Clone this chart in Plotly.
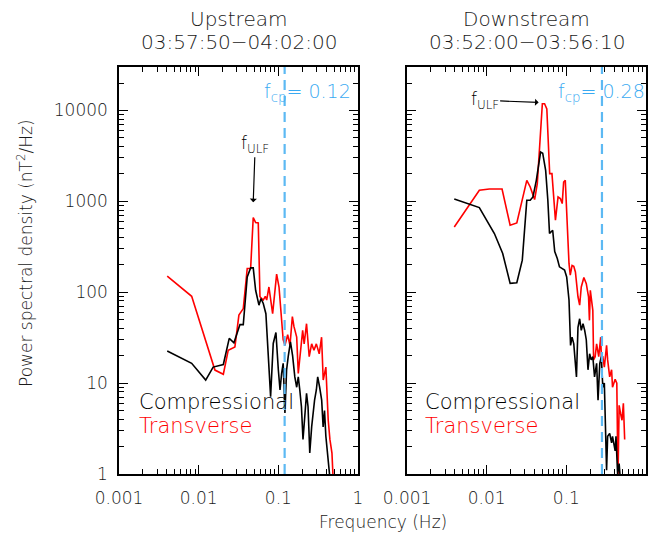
import math
import plotly.graph_objects as go

# ---------------- data ----------------
# Upstream panel
up_tr_f = [0.00403, 0.00817, 0.016, 0.0204, 0.0235, 0.0285, 0.032, 0.0363, 0.0407, 0.0449,
           0.0484, 0.0519, 0.056, 0.0588, 0.0647, 0.0686, 0.0714, 0.0762, 0.0848, 0.0952,
           0.102, 0.115, 0.121, 0.131, 0.14, 0.15, 0.157, 0.17, 0.178, 0.19,
           0.202, 0.211, 0.226, 0.244, 0.262, 0.28, 0.3, 0.326, 0.349, 0.366,
           0.395, 0.423, 0.444, 0.471, 0.487]
up_tr_p = [150, 90, 13.9, 12.5, 23, 25, 56, 66, 182, 182,
           662, 583, 578, 89, 82, 90, 82, 114, 58, 158,
           114, 30, 26, 34, 26, 54, 42, 32, 12.8, 25,
           38, 27, 45, 19.5, 27, 23, 27, 21, 32, 10.8,
           15, 3.9, 2.4, 1.7, 0.9]

up_co_f = [0.00403, 0.00817, 0.01225, 0.0152, 0.0204, 0.0242, 0.0277, 0.033, 0.0363, 0.0407,
           0.0449, 0.0484, 0.0519, 0.0571, 0.0606, 0.0647, 0.0698, 0.0746, 0.08, 0.0863,
           0.0933, 0.1, 0.105, 0.11, 0.115, 0.121, 0.127, 0.133, 0.142, 0.151,
           0.161, 0.17, 0.178, 0.186, 0.195, 0.204, 0.214, 0.226, 0.236, 0.248,
           0.262, 0.272, 0.285, 0.3, 0.312, 0.33, 0.35, 0.365, 0.38, 0.395,
           0.415, 0.43, 0.45]
up_co_p = [22.5, 16.5, 10.8, 15, 16, 31, 27.7, 44, 44, 147,
           185, 185, 105, 72, 85, 75, 58, 23, 7.1, 27.3,
           36, 14, 8.4, 12.8, 16.5, 4.7, 14, 19.5, 28.4, 20,
           11.7, 9, 11.7, 8.4, 5.5, 2.4, 3.9, 7.7, 5.5, 1.7,
           3.3, 4.6, 6.5, 8.4, 11.7, 9, 6.5, 3.3, 5, 2.6,
           1.7, 1.06, 0.8]

# Downstream panel
dn_tr_f = [0.00392, 0.00809, 0.0108, 0.0156, 0.0197, 0.0239, 0.0319, 0.0352, 0.04, 0.0432,
           0.05, 0.0533, 0.0569, 0.0618, 0.066, 0.073, 0.0787, 0.0842, 0.0888, 0.0925,
           0.097, 0.103, 0.108, 0.112, 0.118, 0.124, 0.13, 0.14, 0.147, 0.154,
           0.166, 0.178, 0.19, 0.195, 0.2, 0.215, 0.22, 0.23, 0.24, 0.255,
           0.27, 0.275, 0.287, 0.3, 0.32, 0.33, 0.35, 0.37, 0.38, 0.41,
           0.43, 0.445, 0.46, 0.48, 0.5, 0.52, 0.54]
dn_tr_p = [522, 1321, 1366, 1366, 545, 578, 1700, 1437, 1043, 1563,
           11830, 11830, 10400, 2015, 2015, 618, 1115, 1070, 943, 1630,
           1700, 480, 207, 154, 197, 193, 167, 89, 72, 114,
           145, 124, 89, 49, 105, 63, 18, 19.5, 27, 19.5,
           32, 19.5, 19.5, 15, 26, 18, 11.7, 14, 9, 11,
           10, 0.9, 5.7, 4.6, 3.9, 6, 2.4]

dn_co_f = [0.00392, 0.00809, 0.0125, 0.0159, 0.0175, 0.0197, 0.0239, 0.028, 0.0319, 0.0352,
           0.0381, 0.042, 0.0475, 0.0505, 0.055, 0.0586, 0.0615, 0.0674, 0.0715, 0.077,
           0.082, 0.089, 0.095, 0.101, 0.108, 0.113, 0.118, 0.124, 0.134, 0.14,
           0.147, 0.154, 0.162, 0.17, 0.178, 0.187, 0.196, 0.205, 0.215, 0.226,
           0.24, 0.25, 0.263, 0.275, 0.287, 0.3, 0.31, 0.32, 0.33, 0.35,
           0.37, 0.38, 0.41, 0.42, 0.44, 0.46, 0.48]
dn_co_p = [1060, 853, 442, 266, 190, 125, 127, 225, 1026, 1026,
           1115, 1700, 3480, 3380, 2190, 1026, 442, 480, 280, 235,
           190, 180, 175, 147, 82, 26, 32, 27, 11.7, 41,
           51, 38, 45, 38, 30, 14, 21, 18, 19.5, 11.7,
           16.5, 6.5, 16.5, 19.5, 9, 10, 4.3, 1.1, 2.6, 2.8,
           2.2, 2.6, 1.8, 2.6, 1.0, 1.3, 0.8]

fcp_values = [0.12, 0.28]
ulf_tips = [(0.0484, 975), (0.0449, 12240)]
panel_titles = [("Upstream", "03:57:50\u221204:02:00"), ("Downstream", "03:52:00\u221203:56:10")]
x_ticks = [0.001, 0.01, 0.1, 1]
x_ticktext = ["0.001", "0.01", "0.1", "1"]
y_ticks = [1, 10, 100, 1000, 10000]
y_ticktext = ["1", "10", "100", "1000", "10000"]

# ---------------- style ----------------
W, H = 650, 537
FONT = "DejaVu Sans"
BLUE_TXT = "#3AAAF2"
BLUE_LINE = "#5CB9F3"
RED = "#FF0000"
TXT = "#1a1a1a"
px_x = lambda p: p / W
px_y = lambda p: 1 - p / H

xdom = [[px_x(119), px_x(358)], [px_x(407), px_x(646)]]
ydom = [px_y(474), px_y(67)]

fig = go.Figure()
series = [(up_co_f, up_co_p, up_tr_f, up_tr_p), (dn_co_f, dn_co_p, dn_tr_f, dn_tr_p)]
for i, (cf, cp, tf, tp) in enumerate(series):
    xa = "x" if i == 0 else "x2"
    ya = "y" if i == 0 else "y2"
    fig.add_trace(go.Scatter(x=tf, y=tp, mode="lines", line=dict(color=RED, width=1.6),
                             xaxis=xa, yaxis=ya, showlegend=False))
    fig.add_trace(go.Scatter(x=cf, y=cp, mode="lines", line=dict(color="black", width=1.6),
                             xaxis=xa, yaxis=ya, showlegend=False))

minor_x = [m * 10.0 ** e for e in range(-3, 0) for m in range(2, 10)]
minor_y = [m * 10.0 ** e for e in range(0, 5) for m in range(2, 10)]

tickfont = dict(family=FONT, size=17, color=TXT, weight=200)

def xaxis(dom, anchor):
    return dict(type="log", range=[-3, 0], domain=dom, anchor=anchor, automargin=False,
                showline=True, linecolor="black", linewidth=1.5, mirror="allticks",
                ticks="inside", ticklen=9, tickwidth=1.2, tickcolor="black",
                tickmode="array", tickvals=x_ticks, ticktext=x_ticktext,
                minor=dict(ticks="inside", ticklen=5, tickwidth=1, tickcolor="black",
                           tickmode="array", tickvals=minor_x, showgrid=False),
                showgrid=False, zeroline=False, tickfont=tickfont, ticklabelstandoff=8)

def yaxis(dom, anchor, labels):
    return dict(type="log", range=[0, 4.477], domain=dom, anchor=anchor, automargin=False,
                showline=True, linecolor="black", linewidth=1.5, mirror="allticks",
                ticks="inside", ticklen=9, tickwidth=1.2, tickcolor="black",
                tickmode="array", tickvals=y_ticks, ticktext=y_ticktext,
                minor=dict(ticks="inside", ticklen=5, tickwidth=1, tickcolor="black",
                           tickmode="array", tickvals=minor_y, showgrid=False),
                showgrid=False, zeroline=False, showticklabels=labels,
                tickfont=tickfont, ticklabelstandoff=6)

fig.update_layout(
    template="none",
    width=W, height=H, margin=dict(l=0, r=0, t=0, b=0, pad=0),
    paper_bgcolor="white", plot_bgcolor="white",
    xaxis=xaxis(xdom[0], "y"), yaxis=yaxis(ydom, "x", True),
    xaxis2=xaxis(xdom[1], "y2"), yaxis2=yaxis(ydom, "x2", False),
)

ann = []
shapes = []
for i in range(2):
    xr = "x" if i == 0 else "x2"
    yr = "y" if i == 0 else "y2"
    cx = (xdom[i][0] + xdom[i][1]) / 2
    t1, t2 = panel_titles[i]
    ann.append(dict(text=t1, x=cx, y=px_y(19), xref="paper", yref="paper", showarrow=False,
                    xanchor="center", yanchor="middle",
                    font=dict(family=FONT, size=20, color=TXT, weight=200)))
    ann.append(dict(text=t2, x=cx, y=px_y(42), xref="paper", yref="paper", showarrow=False,
                    xanchor="center", yanchor="middle",
                    font=dict(family=FONT, size=20, color=TXT, weight=200)))
    # fcp dashed line
    shapes.append(dict(type="line", xref=xr, yref=yr + " domain", x0=fcp_values[i], x1=fcp_values[i],
                       y0=0, y1=1, line=dict(color=BLUE_LINE, width=2.2, dash="10px,6px")))
    # legend texts
    lx = px_x(137) if i == 0 else px_x(423)
    ann.append(dict(text="Compressional", x=lx, y=px_y(402), xref="paper", yref="paper",
                    showarrow=False, xanchor="left", yanchor="middle",
                    font=dict(family=FONT, size=21, color="black", weight=200)))
    ann.append(dict(text="Transverse", x=lx, y=px_y(426), xref="paper", yref="paper",
                    showarrow=False, xanchor="left", yanchor="middle",
                    font=dict(family=FONT, size=21, color=RED, weight=200)))

# fcp labels
ann.append(dict(text="f<sub>cp</sub>= " + str(fcp_values[0]), x=px_x(262), y=px_y(92),
                xref="paper", yref="paper", showarrow=False, xanchor="left", yanchor="middle",
                font=dict(family=FONT, size=19, color=BLUE_TXT, weight=200)))
ann.append(dict(text="f<sub>cp</sub>= " + str(fcp_values[1]), x=px_x(556), y=px_y(92),
                xref="paper", yref="paper", showarrow=False, xanchor="left", yanchor="middle",
                font=dict(family=FONT, size=19, color=BLUE_TXT, weight=200)))

# f_ULF labels with arrows (arrow tip on the peak; log axes take log10 positions)
ann.append(dict(text="f<sub>ULF</sub>", x=math.log10(ulf_tips[0][0]), y=math.log10(ulf_tips[0][1]),
                xref="x", yref="y",
                showarrow=True, ax=2, ay=-58, arrowhead=1, arrowsize=1, arrowwidth=1.2,
                arrowcolor="black", standoff=0,
                font=dict(family=FONT, size=17, color="black", weight=200)))
ann.append(dict(text="f<sub>ULF</sub>", x=math.log10(ulf_tips[1][0]), y=math.log10(ulf_tips[1][1]),
                xref="x2", yref="y2",
                showarrow=True, ax=-54, ay=-2, arrowhead=1, arrowsize=1, arrowwidth=1.2,
                arrowcolor="black", standoff=0,
                font=dict(family=FONT, size=17, color="black", weight=200)))

# axis titles
ann.append(dict(text="Frequency (Hz)", x=px_x(383), y=px_y(522), xref="paper", yref="paper",
                showarrow=False, xanchor="center", yanchor="middle",
                font=dict(family=FONT, size=17, color=TXT, weight=200)))
ann.append(dict(text="Power spectral density (nT<sup>2</sup>/Hz)", x=px_x(25), y=px_y(253),
                xref="paper", yref="paper", showarrow=False, textangle=-90,
                xanchor="center", yanchor="middle",
                font=dict(family=FONT, size=17, color=TXT, weight=200)))

fig.update_layout(annotations=ann, shapes=shapes)
fig.write_html("out.html")
